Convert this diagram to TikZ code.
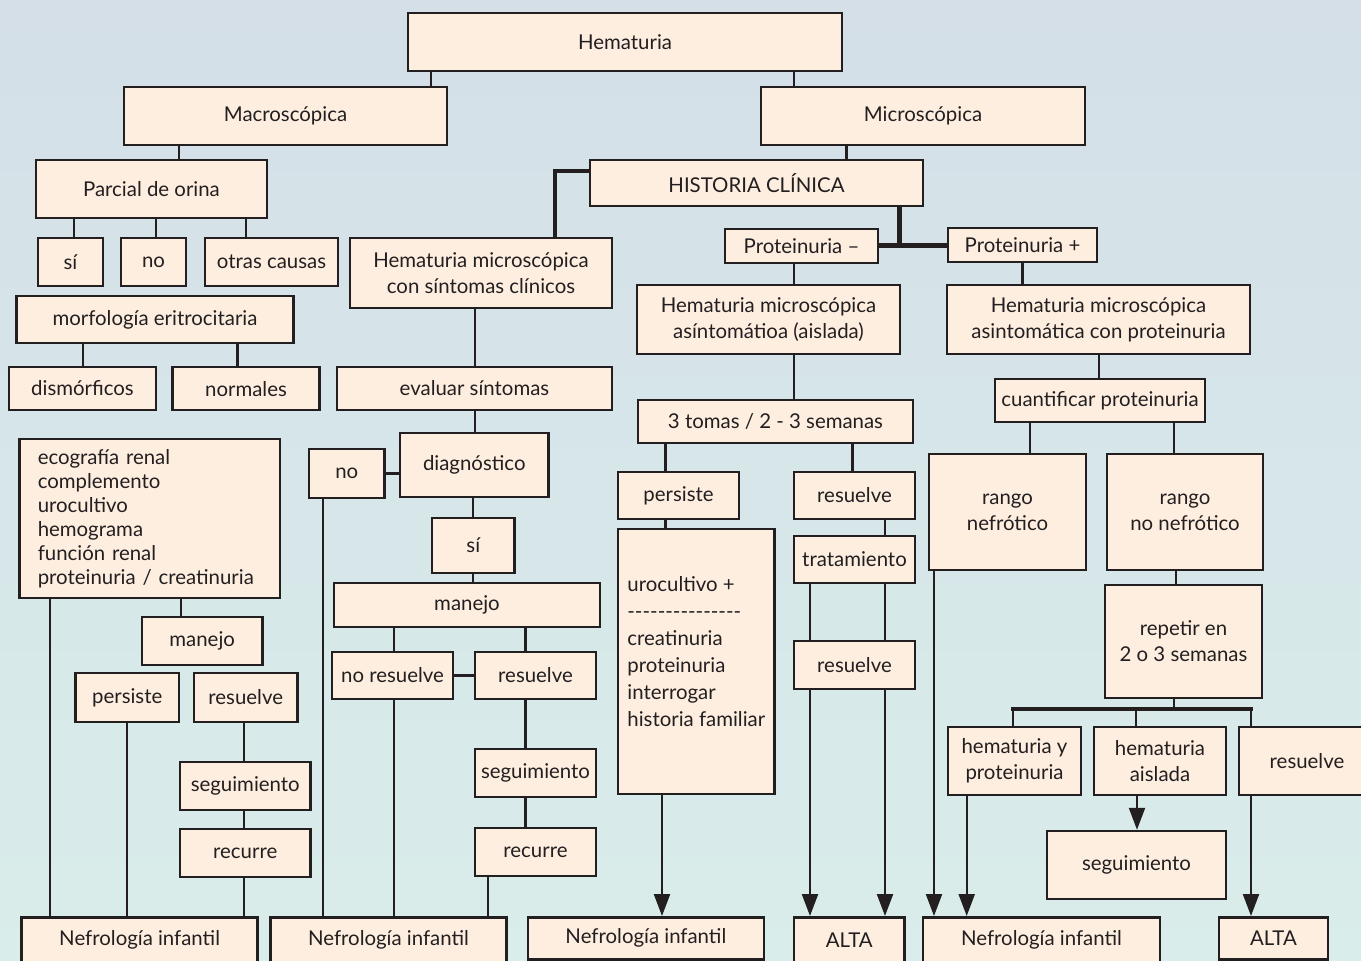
\documentclass[tikz,border=0pt]{standalone}
\usepackage{fontspec}
\setmainfont{Lato}
\usetikzlibrary{arrows.meta}
\definecolor{boxfill}{HTML}{FDEEE0}
\definecolor{lncol}{HTML}{231F20}
\definecolor{bgtop}{HTML}{D4DFE8}
\definecolor{bgmid}{HTML}{D6E7EA}
\definecolor{bgbot}{HTML}{D9EDEA}

\begin{document}
\begin{tikzpicture}[x=0.5pt,y=-0.5pt]
        \tikzset{box/.style={rectangle, draw=lncol, fill=boxfill,
                    line width=1.25pt, inner sep=0pt,
                    align=center, text=lncol,
                    font=\fontsize{10.2}{13}\selectfont},
                 sz/.style 2 args={minimum width=#1*0.5pt, minimum height=#2*0.5pt},
                 ln/.style={draw=lncol, line width=1.15pt},
                 thk/.style={line width=2.2pt},
                 arr/.style={ln, -{Triangle[width=8pt,length=11pt]}}}
        \path[use as bounding box, clip] (0,0) rectangle (1361,960);
        \shade[top color=bgtop, middle color=bgmid, bottom color=bgbot] (0,0) rectangle (1361,960);

        % top levels
        \node[box, sz={434}{58}] (hem) at (625,42) {Hematuria};
        \node[box, sz={323}{58}] (macro) at (285.5,116) {Macroscópica};
        \node[box, sz={324}{58}] (micro) at (923,116) {Microscópica};
        \node[box, sz={231}{58}] (parcial) at (151.5,189) {Parcial de orina};
        \node[box, sz={65}{48}] (si1) at (70.5,262) {sí};
        \node[box, sz={65}{48}] (no1) at (153.5,262) {no};
        \node[box, sz={133}{48}] (otras) at (271.5,262) {otras causas};
        \node[box, sz={333}{46}] (historia) at (756.5,183) {HISTORIA CLÍNICA};
        \node[box, sz={262}{70}] (consint) at (481,273) {Hematuria microscópica\\con síntomas clínicos};
        \node[box, sz={153}{34}] (protm) at (801.5,246) {Proteinuria –};
        \node[box, sz={149}{34}] (protp) at (1022.5,245) {Proteinuria +};
        \node[box, sz={263}{69}] (asint) at (768.5,319.5) {Hematuria microscópica\\asíntomátioa (aislada)};
        \node[box, sz={303}{69}] (asintp) at (1098.5,319.5) {Hematuria microscópica\\asintomática con proteinuria};

        % left column
        \node[box, sz={277}{47}] (morfo) at (155,319.5) {morfología eritrocitaria};
        \node[box, sz={147}{43}] (dism) at (82.5,388.5) {dismórficos};
        \node[box, sz={147}{43}, text depth=-2pt] (norm) at (246,388.5) {normales};
        \node[box, sz={260.5}{159}, align=left, text width=112pt,
              font=\fontsize{10.2}{12}\selectfont] (ecog) at (149.75,518.5)
            {ecografía renal\\complemento\\urocultivo\\hemograma\\función renal\\proteinuria / creatinuria};
        \node[box, sz={120.4}{48}] (manejo1) at (202.2,641) {manejo};
        \node[box, sz={103.5}{49}] (pers1) at (127.25,697.5) {persiste};
        \node[box, sz={103.5}{49}] (res1) at (245.75,697.5) {resuelve};
        \node[box, sz={130.5}{48}] (seg1) at (245.25,786) {seguimiento};
        \node[box, sz={130.5}{48}] (rec1) at (245.25,853) {recurre};

        % second column
        \node[box, sz={275}{43}] (eval) at (474.5,388.5) {evaluar síntomas};
        \node[box, sz={148.6}{64}] (diag) at (474.3,465) {diagnóstico};
        \node[box, sz={75.6}{49}] (no2) at (346.8,473.5) {no};
        \node[box, sz={82.7}{55}] (si2) at (473.3,545.5) {sí};
        \node[box, sz={266}{44}] (manejo2) at (467,605) {manejo};
        \node[box, sz={121}{47}] (nores) at (392.5,675.5) {no resuelve};
        \node[box, sz={121}{47}] (res2) at (535.5,675.5) {resuelve};
        \node[box, sz={121}{48}] (seg2) at (535.5,773) {seguimiento};
        \node[box, sz={121}{48}] (rec2) at (535.5,852) {recurre};

        % third column
        \node[box, sz={275}{43}] (tomas) at (775.5,421.5) {3 tomas / 2 - 3 semanas};
        \node[box, sz={121}{47}] (pers2) at (678.5,495.5) {persiste};
        \node[box, sz={121}{47}] (res3) at (854.5,495.5) {resuelve};
        \node[box, sz={156.7}{265}, align=left, font=\fontsize{10.2}{13.5}\selectfont] (uro) at (696.3,661.5)
            {urocultivo +\\-{}-{}-{}-{}-{}-{}-{}-{}-{}-{}-{}-{}-{}-{}-\\creatinuria\\proteinuria\\interrogar\\historia familiar\\[-3.5pt]\mbox{}};
        \node[box, sz={121}{47}] (trat) at (854.5,559.5) {tratamiento};
        \node[box, sz={121}{48}] (res4) at (854.5,665) {resuelve};

        % right column
        \node[box, sz={210}{43}] (cuant) at (1100,400.5) {cuantificar proteinuria};
        \node[box, sz={157}{116}] (rango) at (1007.5,512) {rango\\nefrótico};
        \node[box, sz={156}{116}] (rangono) at (1185,512) {rango\\no nefrótico};
        \node[box, sz={157}{113}] (repetir) at (1183.5,641.5) {repetir en\\2 o 3 semanas};
        \node[box, sz={133}{68}] (hyp) at (1014.5,761) {hematuria y\\proteinuria};
        \node[box, sz={132}{68}] (hais) at (1160,761) {hematuria\\aislada};
        \node[box, sz={136}{68}] (res5) at (1307,761) {resuelve};
        \node[box, sz={179}{68}] (seg3) at (1136.5,865) {seguimiento};

        % bottom row
        \node[box, sz={236}{46}, anchor=north] (nef1) at (139.65,916) {Nefrología infantil};
        \node[box, sz={236}{46}, anchor=north] (nef2) at (388.5,916) {Nefrología infantil};
        \node[box, sz={236.3}{42}, anchor=north] (nef3) at (645.9,916) {Nefrología infantil};
        \node[box, sz={110.6}{46}, anchor=north] (alta1) at (849.3,916) {ALTA};
        \node[box, sz={237}{46}, anchor=north] (nef4) at (1041.5,916) {Nefrología infantil};
        \node[box, sz={109.3}{42}, anchor=north] (alta2) at (1273.4,916) {ALTA};

        % connectors
        \foreach \x/\a/\b in {431/hem/macro, 794/hem/micro, 179/macro/parcial,
                74/parcial/si1, 156/parcial/no1, 246/parcial/otras,
                846.5/micro/historia, 794/protm/asint, 1022.6/protp/asintp,
                83/morfo/dism, 237.6/morfo/norm, 475/consint/eval, 475/eval/diag,
                472.7/diag/si2, 472.7/si2/manejo2, 393.8/manejo2/nores, 525.6/manejo2/res2,
                50/ecog/nef1, 181/ecog/manejo1, 127/pers1/nef1, 244/res1/seg1,
                244/seg1/rec1, 244/rec1/nef1, 323/no2/nef2, 393.8/nores/nef2,
                525.6/res2/seg2, 525.6/seg2/rec2, 488/rec2/nef2,
                793.8/asint/tomas, 665.6/tomas/pers2, 852.5/tomas/res3, 665.6/pers2/uro,
                885/res3/trat, 810/trat/res4, 885/trat/res4,
                1098.8/asintp/cuant, 1030/cuant/rango, 1174/cuant/rangono, 1175.7/rangono/repetir}
            \draw[ln] (\x,0 |- \a.south) -- (\x,0 |- \b.north);
        \foreach \x/\a/\b in {662/uro/nef3, 810/res4/alta1, 885/res4/alta1, 934/rango/nef4,
                966.7/hyp/nef4, 1137/hais/seg3, 1251/res5/alta2}
            \draw[arr] (\x,0 |- \a.south) -- (\x,0 |- \b.north);
        \draw[ln] (no2.east) -- (no2.east -| diag.west);
        \draw[ln] (nores.east) -- (res2.west);
        \draw[ln, thk] (historia.west |- 0,171) -| (555,0 |- consint.north);
        \coordinate (pj) at (899.5,245.5);
        \draw[ln, thk] (protm.east |- pj) -- (protp.west |- pj);
        \draw[ln, thk] (pj |- historia.south) -- (pj);
        \coordinate (rj) at (1174,709);
        \draw[ln] (rj |- repetir.south) -- (rj);
        \draw[ln, thk, line cap=rect] (1013,0 |- rj) -- (1251,0 |- rj);
        \foreach \x/\b in {1013/hyp, 1135.7/hais, 1251/res5}
            \draw[ln] (\x,0 |- rj) -- (\x,0 |- \b.north);
    \end{tikzpicture}
\end{document}
